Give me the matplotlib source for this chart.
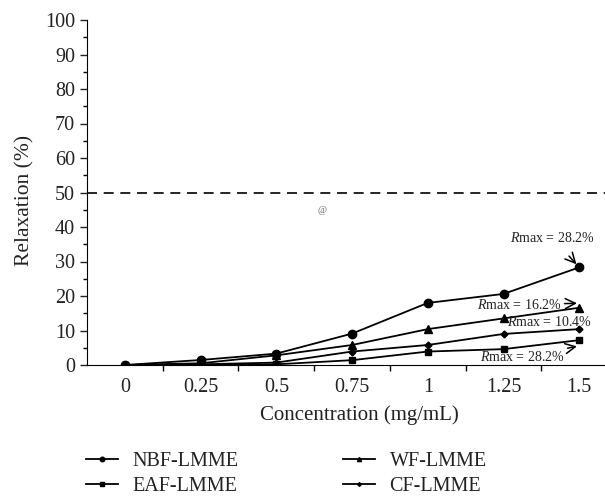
import numpy as np
import matplotlib.pyplot as plt
from matplotlib.ticker import MultipleLocator, FixedLocator

plt.rcParams['font.family'] = 'Liberation Serif'
plt.rcParams['mathtext.fontset'] = 'custom'
plt.rcParams['mathtext.rm'] = 'Liberation Serif'
plt.rcParams['mathtext.it'] = 'Liberation Serif:italic'

# concentration levels (mg/mL)
conc = ["0", "0.25", "0.5", "0.75", "1", "1.25", "1.5"]

# relaxation (%) for each fraction
nbf = [0, 1.45, 3.3, 9.1, 18.0, 20.6, 28.3]
eaf = [0, 0, 0.2, 1.4, 3.9, 4.6, 7.2]
wf = [0, 0.5, 2.8, 5.8, 10.4, 13.5, 16.6]
cf = [0, 0.2, 0.7, 3.9, 5.8, 9.0, 10.4]

idx = np.arange(len(conc))

fig = plt.figure(figsize=(6.05, 4.99), dpi=100)
ax = fig.add_axes([87/605, 1 - 365/499, 1 - 87/605, 345/499])

ln = dict(color="k", lw=1.3)
ax.plot(idx, nbf, marker="o", ms=6, label="NBF-LMME", **ln)
ax.plot(idx, eaf, marker="s", ms=5, label="EAF-LMME", **ln)
ax.plot(idx, wf, marker="^", ms=5.5, label="WF-LMME", **ln)
ax.plot(idx, cf, marker="D", ms=3.5, label="CF-LMME", **ln)

ax.axhline(50, color="k", lw=1.2, dashes=(6, 4))

ax.set_xlim(-0.5, 6.34)
ax.set_ylim(0, 100)

ax.spines["top"].set_visible(False)
ax.spines["right"].set_visible(False)

ax.yaxis.set_major_locator(MultipleLocator(10))
ax.yaxis.set_minor_locator(MultipleLocator(5))
ax.tick_params(axis="y", which="major", length=5, width=1, labelsize=14.5, colors="#222")
ax.tick_params(axis="y", which="minor", length=3, width=1)

ax.set_xticks(idx)
ax.set_xticklabels(conc)
ax.xaxis.set_minor_locator(FixedLocator(idx[:-1] + 0.5))
ax.tick_params(axis="x", which="major", length=0, pad=9, labelsize=14.5, colors="#222")
ax.tick_params(axis="x", which="minor", length=4, width=1)

fig.text(359/605, 1 - 415/499, "Concentration (mg/mL)", ha="center", va="center",
         fontsize=15, color="#222")
fig.text(25/605, 1 - 200/499, "Relaxation (%)", ha="center", va="center",
         rotation=90, fontsize=15.5, color="#222")

ax.text(2.6, 44.7, "@", fontsize=7, color="#666", ha="center", va="center")

# R_max annotations
rlab = r"$\mathit{R}\mathrm{max}$ = "
akw = dict(arrowstyle="->", color="k", lw=1.1, mutation_scale=18)
ax.annotate(rlab + "28.2%", xy=(6, 28.3), xytext=(5.65, 36.8), fontsize=10,
            ha="center", va="center", color="#222",
            arrowprops=dict(shrinkA=8, shrinkB=3, **akw))
ax.annotate(rlab + "16.2%", xy=(5.97, 17.9), xytext=(5.21, 17.4), fontsize=10,
            ha="center", va="center", color="#222",
            arrowprops=dict(shrinkA=42, shrinkB=0, **akw))
ax.text(5.6, 12.5, rlab + "10.4%", fontsize=10, ha="center", va="center", color="#222")
ax.annotate(rlab + "28.2%", xy=(5.97, 5.4), xytext=(5.25, 2.4), fontsize=10,
            ha="center", va="center", color="#222",
            arrowprops=dict(shrinkA=42, shrinkB=0, **akw))

h, l = ax.get_legend_handles_labels()
fig.legend(h, l, ncol=2, frameon=False, loc="center left",
           bbox_to_anchor=(68/605, 1 - 474/499), fontsize=14.5, markerscale=0.55,
           handlelength=1.6, handletextpad=0.7, columnspacing=5.2,
           labelspacing=0.3, labelcolor="#222")

fig.savefig("out.png", dpi=100)
